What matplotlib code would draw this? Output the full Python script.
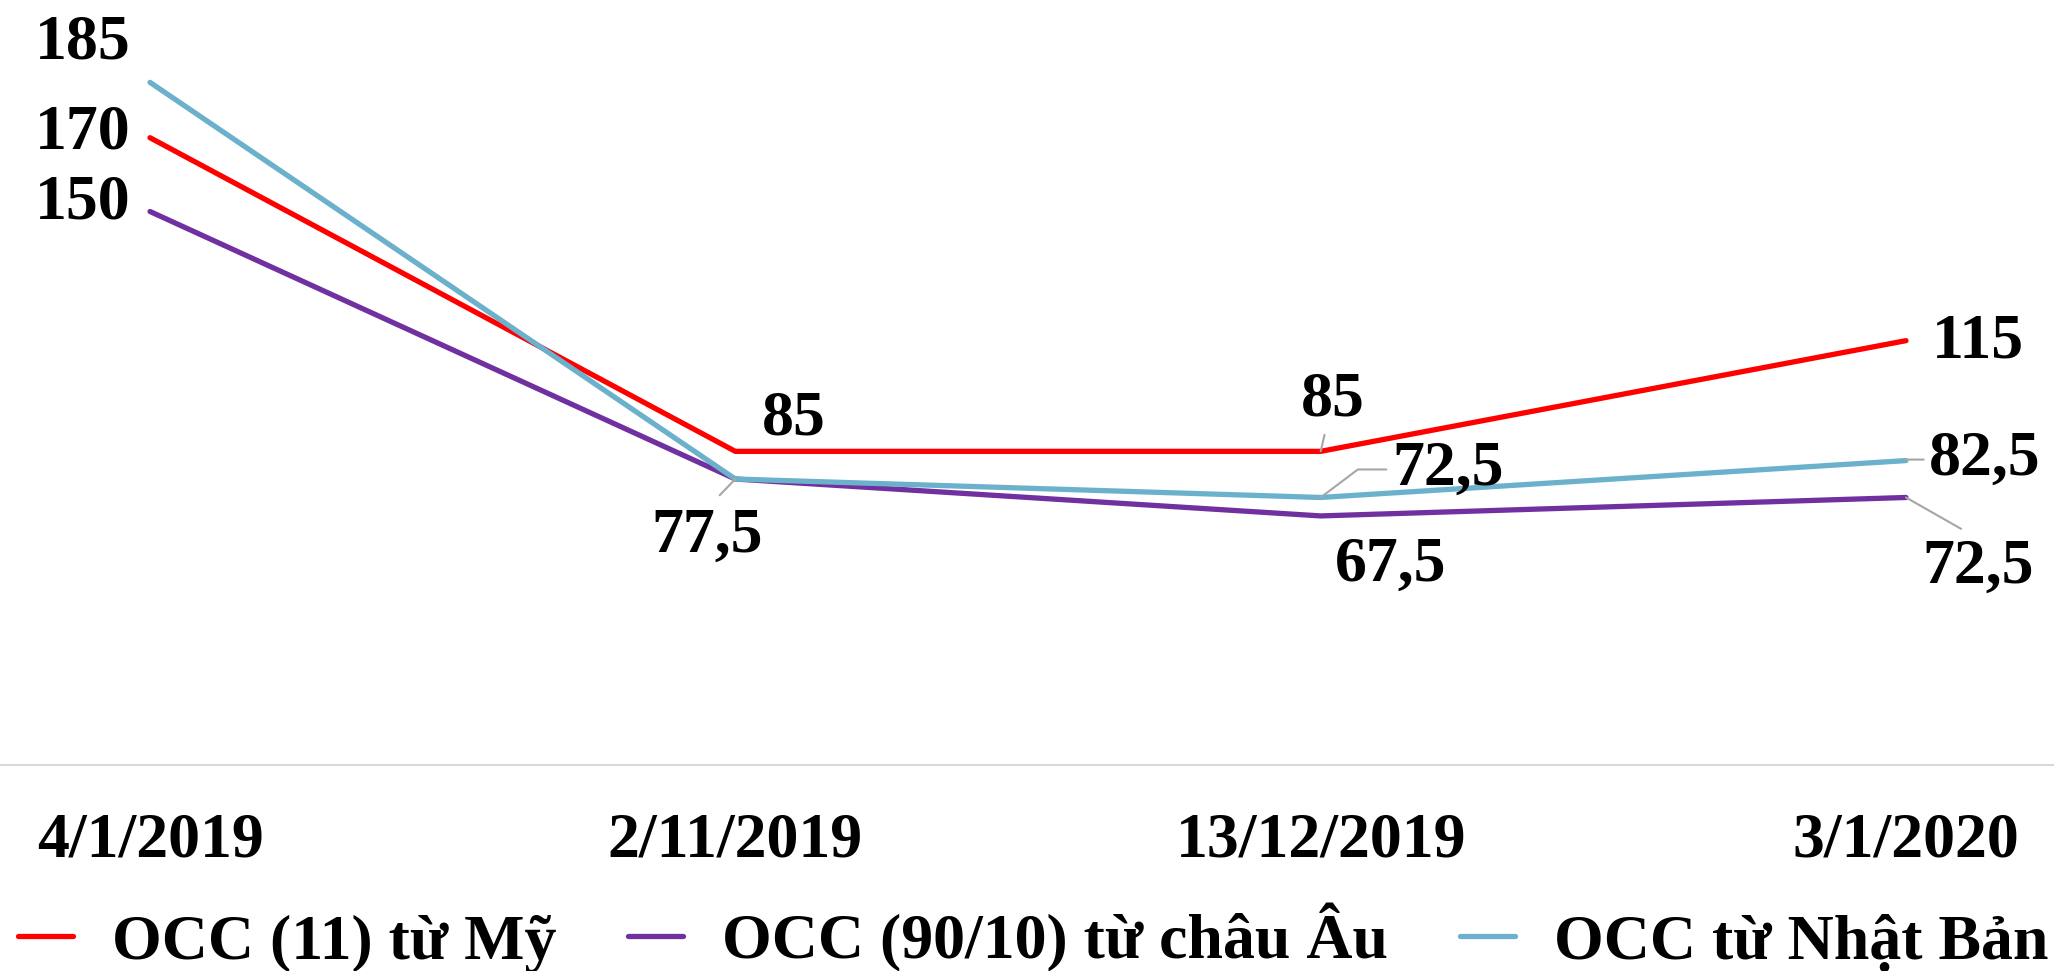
import matplotlib
matplotlib.use("Agg")
import matplotlib.pyplot as plt

categories = ["4/1/2019", "2/11/2019", "13/12/2019", "3/1/2020"]
series_names = ["OCC (11) từ Mỹ", "OCC (90/10) từ châu Âu", "OCC từ Nhật Bản"]
us_values = [170, 85, 85, 115]
eu_values = [150, 77.5, 67.5, 72.5]
jp_values = [185, 77.5, 72.5, 82.5]

colors = ["#FF0000", "#7030A0", "#6BB1CC"]

# label offsets in pixels (dx, dy) and leader-line style (None = no leader)
us_offsets = [(-67, 4, None), (58, 32, None), (12, 51, 'straight'), (72, -2, None)]
eu_offsets = [(-67, 8, None), (-28, -58, 'top'), (70, -50, None), (72, -70, 'top')]
jp_offsets = [(-67, 39, None), None, (127, 28, 'elbow'), (79, 1, 'elbow')]

plt.rcParams['font.family'] = ['Liberation Serif', 'DejaVu Serif']
plt.rcParams['font.weight'] = 'bold'
FS = 46

W, H = 2054, 971
fig = plt.figure(figsize=(W / 100, H / 100), dpi=100)
ax_bottom = 765
ax_top = 27
ax = fig.add_axes([0, (H - ax_bottom) / H, 1, (ax_bottom - ax_top) / H])

x = list(range(len(categories)))
unit = (1906 - 150) / 3
ax.set_xlim(-150 / unit, 3 + (W - 1906) / unit)
ax.set_ylim(0, 200)

all_series = [us_values, eu_values, jp_values]
all_offsets = [us_offsets, eu_offsets, jp_offsets]
for vals, col, name in zip(all_series, colors, series_names):
    ax.plot(x, vals, color=col, lw=3.8, label=name, solid_capstyle='round',
            solid_joinstyle='round')

def fmt(v):
    s = f"{v:g}"
    return s.replace('.', ',')

for vals, offs in zip(all_series, all_offsets):
    for i, (v, o) in enumerate(zip(vals, offs)):
        if o is None:
            continue
        dx, dy, leader = o
        kw = {}
        if leader == 'straight':
            kw['arrowprops'] = dict(arrowstyle='-', color='#A6A6A6', lw=1.5,
                                    shrinkA=2, shrinkB=0)
        elif leader == 'top':
            kw['arrowprops'] = dict(arrowstyle='-', color='#A6A6A6', lw=1.5,
                                    relpos=(0.5, 1.0), shrinkA=10, shrinkB=0)
        elif leader == 'elbow':
            kw['arrowprops'] = dict(arrowstyle='-', color='#A6A6A6', lw=1.5,
                                    connectionstyle='angle,angleA=0,angleB=37,rad=0',
                                    shrinkA=2, shrinkB=0)
        ax.annotate(fmt(v), xy=(i, v), xytext=(dx, dy), textcoords='offset pixels',
                    ha='center', va='center', fontsize=FS, fontweight='bold',
                    color='black', **kw)

for s in ['top', 'left', 'right']:
    ax.spines[s].set_visible(False)
ax.spines['bottom'].set_color('#D9D9D9')
ax.spines['bottom'].set_linewidth(1.5)
ax.set_yticks([])
ax.set_xticks(x)
ax.set_xticklabels(categories, fontsize=FS, fontweight='bold')
ax.tick_params(axis='x', length=0, pad=34)

fig.legend(loc='center', bbox_to_anchor=(0.503, (H - 938) / H), ncol=3,
           frameon=False, fontsize=FS, handlelength=0.86, handletextpad=0.61,
           columnspacing=1.12, borderaxespad=0, borderpad=0)

fig.savefig("out.png", dpi=100)
